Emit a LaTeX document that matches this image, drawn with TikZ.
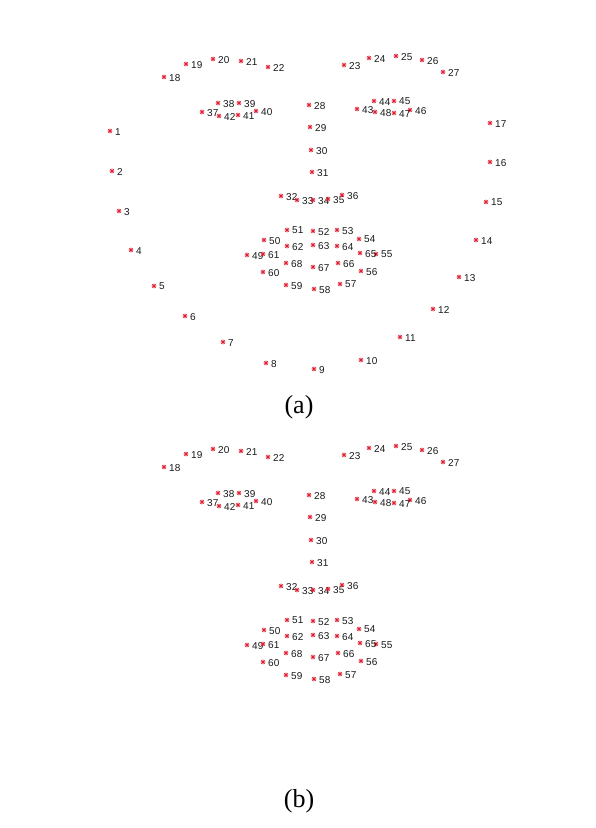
\documentclass[tikz,border=0pt]{standalone}
\usepackage{fontspec}
\setmainfont{Liberation Serif}
\newfontfamily\arialf{Liberation Sans}
\definecolor{mkred}{RGB}{225,30,50}
\begin{document}
\begin{tikzpicture}[x=1pt,y=-1pt,
  mk/.pic={\draw[mkred, line width=0.6pt] (-2.4,0)--(2.4,0) (0,-2.4)--(0,2.4) (-1.8,-1.8)--(1.8,1.8) (-1.8,1.8)--(1.8,-1.8);},
  lbl/.style={anchor=west, inner sep=0pt, font=\arialf\fontsize{10}{11}\selectfont, text=black!90},
  captxt/.style={inner sep=0pt, font=\fontsize{26}{28}\selectfont}]
\useasboundingbox[fill=white] (0,0) rectangle (596,828);
% panel (a): all 68 landmarks
\foreach \n/\x/\y in {1/110/131,2/112/171,3/119/211,4/131/250,5/154/286,6/185/316,7/223/342,8/266/363,9/314/369,10/361/360,11/400/337,12/433/309,13/459/277,14/476/240,15/486/202,16/490/162,17/490/123,18/164/77,19/186/64,20/213/59,21/241/61,22/268/67,23/344/65,24/369/58,25/396/56,26/422/60,27/443/72,28/309/105,29/310/127,30/311/150,31/312/172,32/281/196,33/297/200,34/313/200,35/328/199,36/342/195,37/202/112,38/218/103,39/239/103,40/256/111,41/238/115,42/219/116,43/357/109,44/374/101,45/394/101,46/410/110,47/394/113,48/375/112,49/247/255,50/264/240,51/287/230,52/313/231,53/337/230,54/359/239,55/376/254,56/361/271,57/340/284,58/314/289,59/286/285,60/263/272,61/263/254,62/287/246,63/313/245,64/337/246,65/360/253,66/338/263,67/313/267,68/286/263}{
  \coordinate (a\n) at (\x,\y);
  \pic at (a\n) {mk};
  \node[lbl] (la\n) at ([xshift=5pt,yshift=-0.6pt]a\n) {\n};
}
% panel (b): landmarks 18-68
\foreach \n/\x/\y in {18/164/77,19/186/64,20/213/59,21/241/61,22/268/67,23/344/65,24/369/58,25/396/56,26/422/60,27/443/72,28/309/105,29/310/127,30/311/150,31/312/172,32/281/196,33/297/200,34/313/200,35/328/199,36/342/195,37/202/112,38/218/103,39/239/103,40/256/111,41/238/115,42/219/116,43/357/109,44/374/101,45/394/101,46/410/110,47/394/113,48/375/112,49/247/255,50/264/240,51/287/230,52/313/231,53/337/230,54/359/239,55/376/254,56/361/271,57/340/284,58/314/289,59/286/285,60/263/272,61/263/254,62/287/246,63/313/245,64/337/246,65/360/253,66/338/263,67/313/267,68/286/263}{
  \coordinate (b\n) at (\x,{\y+390});
  \pic at (b\n) {mk};
  \node[lbl] (lb\n) at ([xshift=5pt,yshift=-0.6pt]b\n) {\n};
}
\node[captxt] (capa) at (299,407) {(a)};
\node[captxt] (capb) at (299,801) {(b)};
\end{tikzpicture}
\end{document}
